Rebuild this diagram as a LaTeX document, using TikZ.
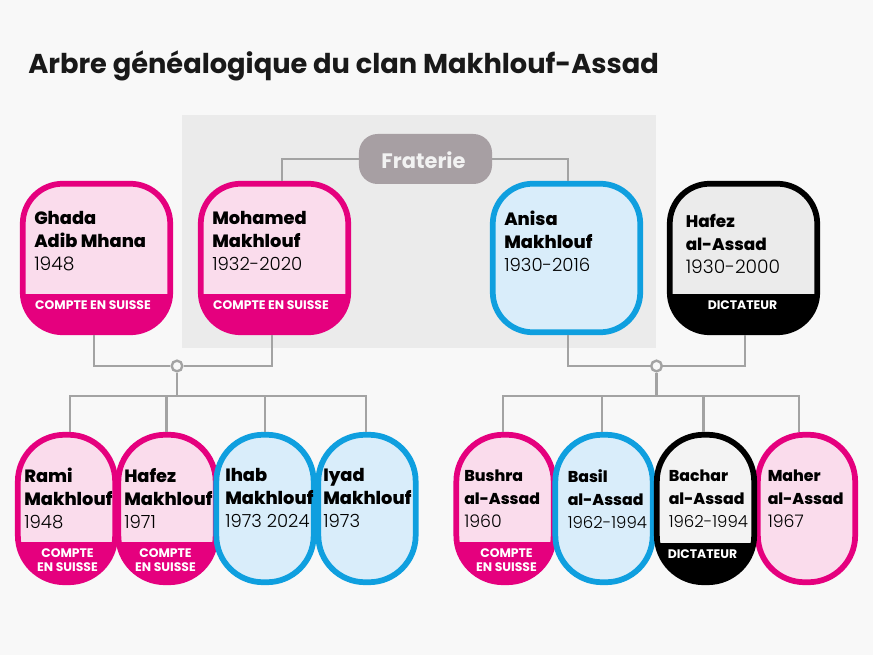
\documentclass[tikz,border=0pt]{standalone}
\usepackage{fontspec}
\usepackage{xcolor}
\usetikzlibrary{calc}
\setmainfont{Poppins}
\newfontfamily\yearfont{Poppins Light}
\newfontfamily\namefont{Poppins ExtraBold}
\definecolor{pagebg}{HTML}{F8F8F8}
\definecolor{panelgray}{HTML}{EBEBEB}
\definecolor{barwhite}{HTML}{F3F3F3}
\definecolor{linkgray}{HTML}{A3A3A3}
\definecolor{fratgray}{HTML}{A79FA3}
\definecolor{darkpink}{HTML}{E5007E}
\definecolor{lightpink}{HTML}{FADCEC}
\definecolor{darkcyan}{HTML}{0F9FDF}
\definecolor{lightcyan}{HTML}{D9EDFA}
\tikzset{
  box/.style={draw=#1,line width=4.3pt,inner sep=0pt},
  big/.style={minimum width=110.6pt,minimum height=111.4pt,rounded corners=30pt},
  small/.style={minimum width=73pt,minimum height=110.6pt,rounded corners=35pt},
  band/.style 2 args={path picture={\fill[#1,sharp corners] (path picture bounding box.south west) rectangle ([yshift=#2]path picture bounding box.south east);}},
  person/.style={anchor=north west,align=left,inner sep=0pt,font=\namefont\fontsize{#1}{17.2}\selectfont},
  person/.default=13.35,
  tag/.style={align=center,inner sep=0pt,text=white,font=\bfseries\fontsize{9.3}{10.2}\selectfont},
  link/.style={draw=linkgray,line width=2.2pt},
  dot/.style={circle,draw=linkgray,line width=1.8pt,fill=pagebg,minimum size=8pt,inner sep=0pt}
}
\newcommand{\yr}[2]{\yearfont\fontsize{#1}{17.2}\selectfont #2}
\begin{document}
\begin{tikzpicture}[x=0.75pt,y=-0.75pt]
  \useasboundingbox (0,0) rectangle (873,655);
  \fill[pagebg] (0,0) rectangle (873,655);
  \fill[panelgray] (182,115) rectangle (656,348);

  \node[anchor=base west,inner sep=0pt,font=\bfseries\fontsize{20.45}{24}\selectfont,text=black!90] (title) at (28,74) {Arbre généalogique du clan Makhlouf-Assad};

  % Parents
  \node[box=darkpink,big,fill=lightpink,band={darkpink}{28.7pt}] (ghada) at (96.5,258) {};
  \node[box=darkpink,big,fill=lightpink,band={darkpink}{28.7pt}] (mohamed) at (274.5,258) {};
  \node[box=darkcyan,big,fill=lightcyan] (anisa) at (566.5,258) {};
  \node[box=black,big,fill=panelgray,band={black}{28.7pt}] (hafez) at (743.5,258) {};
  \node[fill=fratgray,minimum width=99.8pt,minimum height=37.5pt,rounded corners=14pt,inner sep=0pt] (fraterie) at (425.5,159) {};
  \node[inner sep=0pt,text=white!95!black,font=\bfseries\fontsize{15.7}{18}\selectfont] (fratlabel) at (423.5,160) {Fraterie};

  % Children
  \node[box=darkpink,small,fill=lightpink,band={darkpink}{30pt}] (rami) at (66.5,508.5) {};
  \node[box=darkpink,small,fill=lightpink,band={darkpink}{30pt}] (hafezm) at (167,508.5) {};
  \node[box=darkcyan,small,fill=lightcyan] (ihab) at (265,508.5) {};
  \node[box=darkcyan,small,fill=lightcyan] (iyad) at (367,508.5) {};
  \node[box=darkpink,small,fill=lightpink,band={darkpink}{30pt}] (bushra) at (505,508.5) {};
  \node[box=darkcyan,small,fill=lightcyan] (basil) at (604,508.5) {};
  \node[box=darkpink,small,fill=lightpink] (maher) at (806.5,508.5) {};
  \node[box=black,small,fill=barwhite,band={black}{29.3pt}] (bachar) at (705.5,508.5) {};

  % Texts
  \node[person] (ghadatxt) at (34,211) {Ghada\\Adib Mhana\\\yr{14}{1948}};
  \node[person] (mohamedtxt) at (212,211) {Mohamed\\Makhlouf\\\yr{13.6}{1932-2020}};
  \node[person] (anisatxt) at (504,211) {Anisa\\Makhlouf\\\yr{13.6}{1930-2016}};
  \node[person=12.6] (hafeztxt) at (685.5,214) {Hafez\\al-Assad\\\yr{14}{1930-2000}};
  \node[person] (ramitxt) at (24,468) {Rami\\Makhlouf\\\yr{13.6}{1948}};
  \node[person] (hafezmtxt) at (124,468) {Hafez\\Makhlouf\\\yr{13.6}{1971}};
  \node[person] (ihabtxt) at (225,468) {Ihab\\Makhlouf\\\yr{13.5}{1973 2024}};
  \node[person] (iyadtxt) at (323,468) {Iyad\\Makhlouf\\\yr{13.6}{1973}};
  \node[person=11.8] (bushratxt) at (464,469.5) {Bushra\\al-Assad\\\yr{13}{1960}};
  \node[person=11.8] (basiltxt) at (567.5,469.5) {Basil\\al-Assad\\\yr{12.4}{1962-1994}};
  \node[person=11.8] (bachartxt) at (668.5,469.5) {Bachar\\al-Assad\\\yr{12.4}{1962-1994}};
  \node[person=11.8] (mahertxt) at (767.5,469.5) {Maher\\al-Assad\\\yr{13}{1967}};

  % Tags
  \node[tag] (ghadatag) at (93,305) {COMPTE EN SUISSE};
  \node[tag] (mohamedtag) at (271,305) {COMPTE EN SUISSE};
  \node[tag] (hafeztag) at (742.5,305) {DICTATEUR};
  \node[tag] (ramitag) at (67.5,560) {COMPTE\\EN SUISSE};
  \node[tag] (hafezmtag) at (165.5,560) {COMPTE\\EN SUISSE};
  \node[tag] (bushratag) at (506.5,560) {COMPTE\\EN SUISSE};
  \node[tag] (bachartag) at (702.5,554) {DICTATEUR};

  % Links
  \node[dot] (leftdot) at (177,366) {};
  \node[dot] (rightdot) at (656.5,366) {};
  \coordinate (leftbus) at (177,396);
  \coordinate (rightbus) at (656.5,396);
  \draw[link] (fraterie.west) -| ($(mohamed.north)+(7.5,0)$);
  \draw[link] (fraterie.east) -| ($(anisa.north)+(1.5,0)$);
  \draw[link] ($(ghada.south)+(-2.5,0)$) |- (leftdot.west);
  \draw[link] ($(mohamed.south)+(-2.5,0)$) |- (leftdot.east);
  \draw[link] ($(anisa.south)+(1.5,0)$) |- (rightdot.west);
  \draw[link] ($(hafez.south)+(1.5,0)$) |- (rightdot.east);
  \draw[link] (leftdot.south) -- (leftbus);
  \draw[link] (rightdot.south) -- (rightbus);
  \foreach \kid/\dx in {rami/3.5,hafezm/-0.5,ihab/0,iyad/-1} {
    \draw[link] ($(\kid.north)+(\dx,0)$) |- (leftbus);
  }
  \foreach \kid/\dx in {bushra/-2,basil/-2,bachar/-2,maher/-7.5} {
    \draw[link] ($(\kid.north)+(\dx,0)$) |- (rightbus);
  }
\end{tikzpicture}
\end{document}
